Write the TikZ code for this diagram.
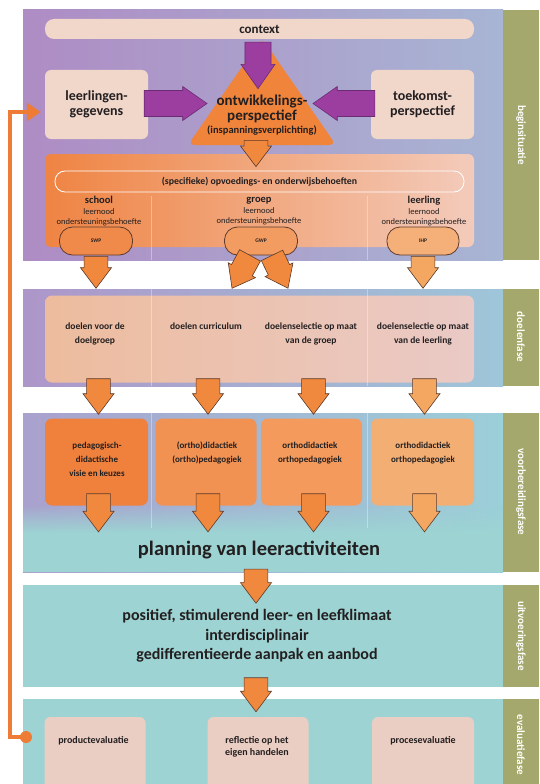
\documentclass[tikz,border=0pt]{standalone}
\usepackage{fontspec}
\setmainfont{Carlito}
\usetikzlibrary{shapes.arrows,arrows.meta,calc,fadings}

\definecolor{ink}{HTML}{231F20}
\definecolor{begL}{HTML}{AE8CC4}
\definecolor{begR}{HTML}{A8B5D4}
\definecolor{doelL}{HTML}{AD96C9}
\definecolor{doelR}{HTML}{9EC6D9}
\definecolor{voorL}{HTML}{A9A1CE}
\definecolor{voorR}{HTML}{9BCFD9}
\definecolor{tealpanel}{HTML}{9DD4D3}
\definecolor{phase}{HTML}{A5A86C}
\definecolor{lightbox}{HTML}{F1D6CA}
\definecolor{needsL}{HTML}{EF8443}
\definecolor{needsM}{HTML}{F09358}
\definecolor{needsR}{HTML}{F3CBBB}
\definecolor{doelboxL}{HTML}{EDBC9E}
\definecolor{doelboxR}{HTML}{EACAC6}
\definecolor{voorA}{HTML}{EF813C}
\definecolor{voorB}{HTML}{F19252}
\definecolor{voorC}{HTML}{F39A5C}
\definecolor{voorD}{HTML}{F3AE73}
\definecolor{evalbox}{HTML}{EBCEC3}
\definecolor{arrorange}{HTML}{F0893D}
\definecolor{arrlight}{HTML}{F3A761}
\definecolor{arrline}{HTML}{5E3B2B}
\definecolor{purp}{HTML}{9B3E9F}
\definecolor{purpline}{HTML}{6C2C73}
\definecolor{trifill}{HTML}{F0843A}
\definecolor{feedback}{HTML}{EE7B36}
\definecolor{pillA}{HTML}{F08A4A}
\definecolor{pillB}{HTML}{F29C62}
\definecolor{pillC}{HTML}{F5AF78}

\tikzset{
  lightbox/.style={fill=lightbox,rounded corners=6pt},
  pill/.style={draw=arrline,line width=.8pt,rounded corners=13pt,minimum width=73pt,minimum height=28pt,font=\bfseries\fontsize{5.5}{6}\selectfont},
  voorbox/.style={rounded corners=7pt,minimum width=101pt,minimum height=87pt},
  small/.style={font=\bfseries\fontsize{9.5}{14}\selectfont},
  voortext/.style={anchor=north,font=\bfseries\fontsize{9}{14}\selectfont},
  evaltext/.style={font=\bfseries\fontsize{10}{12}\selectfont},
  colhead/.style={font=\fontsize{8.5}{10.5}\selectfont},
  phaselabel/.style={rotate=-90,text=white,font=\bfseries\fontsize{11}{13}\selectfont},
  divider/.style={white,opacity=.35,line width=.6pt},
  blockarrow/.style={single arrow,draw=arrline,fill=arrorange,line width=.6pt,inner xsep=0pt,inner ysep=9.5pt,outer sep=0pt,
    minimum width=31pt,single arrow head extend=3pt,single arrow tip angle=74},
  purplearrow/.style={blockarrow,fill=purp,draw=purpline,minimum width=34pt,single arrow tip angle=70},
}

\newcommand{\fatarrow}[3][]{%
  \path let \p1=(#2), \p2=(#3), \n1={veclen(\x2-\x1,\y2-\y1)}, \n2={atan2(\y2-\y1,\x2-\x1)} in
    node[blockarrow,#1,minimum height=\n1,rotate=\n2,anchor=tail] at (\p1) {};}

\begin{document}
\begin{tikzpicture}[x=1pt,y=-1pt,every node/.style={text=ink,align=center,inner sep=0pt}]
\useasboundingbox (0,0) rectangle (539,784);
\clip (0,0) rectangle (539,784);
\fill[white] (0,0) rectangle (539,784);

% phase panels
\shade[left color=begL,right color=begR] (23,10) rectangle (503,260);
\shade[left color=doelL,right color=doelR] (23,289) rectangle (503,386);
\shade[left color=voorL,right color=voorR] (23,413) rectangle (503,572);
\fill[tealpanel,path fading=north] (23,505) rectangle (503,533);
\fill[tealpanel] (23,533) rectangle (503,572);
\fill[tealpanel] (23,585) rectangle (503,687);
\fill[tealpanel] (23,699) rectangle (503,790);

\fill[phase] (503,10) rectangle (539,260);
\fill[phase] (503,289) rectangle (539,386);
\fill[phase] (503,413) rectangle (539,572);
\fill[phase] (503,585) rectangle (539,687);
\fill[phase] (503,699) rectangle (539,790);
\node[phaselabel] (ph1) at (521,135) {beginsituatie};
\node[phaselabel] (ph2) at (521,337) {doelenfase};
\node[phaselabel] (ph3) at (521,492) {voorbereidingsfase};
\node[phaselabel] (ph4) at (521,636) {uitvoeringsfase};
\node[phaselabel] (ph5) at (521,745) {evaluatiefase};

% beginsituatie
\node[lightbox,rounded corners=9pt,minimum width=429pt,minimum height=20pt,font=\bfseries\fontsize{13}{15}\selectfont] (context) at (259.5,29) {context};
\node[lightbox,minimum width=103pt,minimum height=69pt,font=\bfseries\fontsize{14}{15}\selectfont] (leerl) at (96.5,104.5) {leerlingen-\\gegevens};
\node[lightbox,minimum width=103pt,minimum height=69pt,font=\bfseries\fontsize{14}{15}\selectfont] (toek) at (422.5,104.5) {toekomst-\\perspectief};
\fill[trifill,rounded corners=7pt] (262,38) -- (336,145) -- (188,145) -- cycle;
\node[font=\bfseries\fontsize{15}{15}\selectfont] (ontw) at (262,115) {ontwikkelings-\\perspectief\\[-2pt]{\fontsize{10.5}{13}\selectfont(inspanningsverplichting)}};

\node[left color=needsL,middle color=needsM,right color=needsR,rounded corners=6pt,minimum width=429pt,minimum height=93pt] (needs) at (259.5,200.5) {};
\node[draw=white,line width=.8pt,rounded corners=10pt,minimum width=409pt,minimum height=21pt,font=\bfseries\fontsize{9.8}{11}\selectfont] (spec) at (259.5,181.5) {(specifieke) opvoedings- en onderwijsbehoeften};
\node[colhead] (school) at (99,211.5) {{\bfseries\fontsize{10.5}{10.5}\selectfont school}\\leernood\\ondersteuningsbehoefte};
\node[colhead] (groep) at (259,211.5) {{\bfseries\fontsize{10.5}{10.5}\selectfont groep}\\leernood\\ondersteuningsbehoefte};
\node[colhead] (leerling) at (424,211.5) {{\bfseries\fontsize{10.5}{10.5}\selectfont leerling}\\leernood\\ondersteuningsbehoefte};
\node[pill,fill=pillA] (swp) at (96,241) {SWP};
\node[pill,fill=pillB] (gwp) at (261,241) {GWP};
\node[pill,fill=pillC,minimum width=72pt] (ihp) at (423,241) {IHP};

% doelenfase
\node[left color=doelboxL,right color=doelboxR,rounded corners=7pt,minimum width=429pt,minimum height=87pt] (doelen) at (259.5,339) {};
\node[small,anchor=north] (doel1) at (95,323) {doelen voor de\\doelgroep};
\node[small,anchor=north] (doel2) at (206,323) {doelen curriculum};
\node[small,anchor=north] (doel3) at (311,323) {doelenselectie op maat\\van de groep};
\node[small,anchor=north] (doel4) at (423,323) {doelenselectie op maat\\van de leerling};

% voorbereidingsfase
\node[voorbox,fill=voorA,minimum width=103pt] (v1) at (96.5,462) {};
\node[voorbox,fill=voorB] (v2) at (206,462) {};
\node[voorbox,fill=voorC] (v3) at (311.5,462) {};
\node[voorbox,fill=voorD,minimum width=103pt] (v4) at (422.5,462) {};
\node[voortext] (v1t) at (97,442) {pedagogisch-\\didactische\\visie en keuzes};
\node[voortext] (v2t) at (207,442) {(ortho)didactiek\\(ortho)pedagogiek};
\node[voortext] (v3t) at (310,442) {orthodidactiek\\orthopedagogiek};
\node[voortext] (v4t) at (423,442) {orthodidactiek\\orthopedagogiek};
\node[font=\bfseries\fontsize{20.5}{22}\selectfont] (plan) at (259,550) {planning van leeractiviteiten};

% uitvoeringsfase
\node[font=\bfseries\fontsize{16}{19.5}\selectfont] (klimaat) at (257,636) {positief, stimulerend leer- en leefklimaat\\interdisciplinair\\gedifferentieerde aanpak en aanbod};

% evaluatiefase
\node[lightbox,fill=evalbox,minimum width=101pt,minimum height=83pt] (e1box) at (95,758.5) {};
\node[lightbox,fill=evalbox,minimum width=101pt,minimum height=83pt] (e2box) at (258,758.5) {};
\node[lightbox,fill=evalbox,minimum width=102pt,minimum height=83pt] (e3box) at (423,758.5) {};
\node[evaltext] (e1) at (93.5,741) {productevaluatie};
\node[evaltext] (e2) at (257,747) {reflectie op het\\eigen handelen};
\node[evaltext] (e3) at (423,741) {procesevaluatie};

\foreach \x in {151,367} {
  \draw[divider] (\x,196) -- (\x,260);
  \draw[divider] (\x,289) -- (\x,386);
  \draw[divider] (\x,413) -- (\x,528);
}

% block arrows
\fatarrow[purplearrow]{$(context.south)+(-1.5,3)$}{$(ontw.north)+(-4,-6)$}
\fatarrow[purplearrow]{$(leerl.east)+(-4,-1)$}{$(leerl.east -| ontw)+(-55,-1)$}
\fatarrow[purplearrow]{$(toek.west)+(4,-1)$}{$(toek.west -| ontw)+(51,-1)$}
\fatarrow{$(ontw.south)+(-6,5)$}{$(spec.north)+(-3.5,-4)$}

\fatarrow{$(swp.south)+(0,1)$}{$(swp.south |- doelen.north)+(0,-7)$}
\fatarrow{$(gwp.south)+(-11,0)$}{$(gwp.south |- doelen.north)+(-29,-7)$}
\fatarrow{$(gwp.south)+(11,0)$}{$(gwp.south |- doelen.north)+(27,-7)$}
\fatarrow[fill=arrlight]{$(ihp.south)+(0,1)$}{$(ihp.south |- doelen.north)+(0,-7)$}

\foreach \v/\c in {v1/arrorange,v2/arrorange,v3/arrorange,v4/arrlight} {
  \fatarrow[fill=\c]{$(\v.north |- doelen.south)+(2,-4)$}{$(\v.north)+(2,-4)$}
  \fatarrow[fill=\c]{$(\v.south)+(2,-12)$}{$(\v.south |- plan.north)+(2,-9)$}
}
\fatarrow{$(plan.south)+(-3,10)$}{$(klimaat.north)+(-1,-6)$}
\fatarrow{$(klimaat.south)+(-1,15)$}{$(e2box.north)+(-2,-5)$}

% feedback loop
\coordinate (fbstart) at (26,737);
\draw[feedback,line width=4.5pt,-{Triangle[length=14pt,width=18pt]}] (fbstart) -- (10,737) |- ($(leerl.west)+(-4,7.5)$);
\fill[feedback] (fbstart) circle (6);
\end{tikzpicture}
\end{document}
